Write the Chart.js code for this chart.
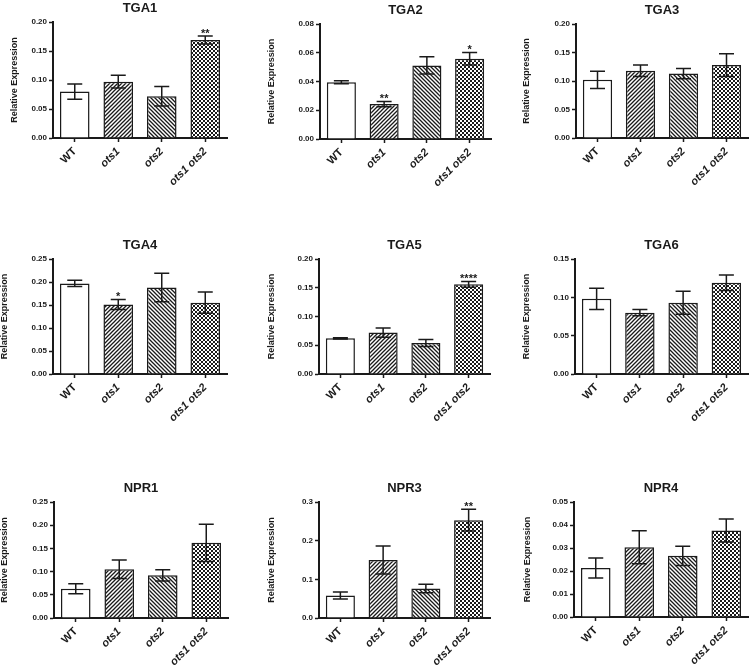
<!DOCTYPE html>
<html>
<head>
<meta charset="utf-8">
<script src="https://cdn.jsdelivr.net/npm/chart.js@4.4.1/dist/chart.umd.min.js"></script>
<style>
  html, body { margin: 0; padding: 0; background: #fff; }
  #wrap { position: relative; width: 750px; height: 669px; overflow: hidden; }
  #wrap canvas { position: absolute; }
</style>
</head>
<body>
<div id="wrap"></div>
<script>
// ── Data ──────────────────────────────────────────────────────────
const groups = ['WT', 'ots1', 'ots2', 'ots1 ots2'];

const tga1Mean = [0.080, 0.097, 0.072, 0.169];
const tga1Err  = [0.013, 0.011, 0.017, 0.007];
const tga1Sig  = ['', '', '', '**'];

const tga2Mean = [0.0395, 0.0243, 0.0512, 0.0558];
const tga2Err  = [0.0010, 0.0018, 0.0060, 0.0044];
const tga2Sig  = ['', '**', '', '*'];

const tga3Mean = [0.102, 0.118, 0.113, 0.128];
const tga3Err  = [0.015, 0.010, 0.009, 0.020];
const tga3Sig  = ['', '', '', ''];

const tga4Mean = [0.197, 0.151, 0.188, 0.155];
const tga4Err  = [0.007, 0.011, 0.031, 0.023];
const tga4Sig  = ['', '*', '', ''];

const tga5Mean = [0.062, 0.072, 0.054, 0.156];
const tga5Err  = [0.0012, 0.008, 0.006, 0.005];
const tga5Sig  = ['', '', '', '****'];

const tga6Mean = [0.098, 0.080, 0.093, 0.119];
const tga6Err  = [0.014, 0.004, 0.015, 0.010];
const tga6Sig  = ['', '', '', ''];

const npr1Mean = [0.063, 0.105, 0.092, 0.162];
const npr1Err  = [0.011, 0.020, 0.012, 0.040];
const npr1Sig  = ['', '', '', ''];

const npr3Mean = [0.058, 0.150, 0.076, 0.253];
const npr3Err  = [0.009, 0.036, 0.011, 0.028];
const npr3Sig  = ['', '', '', '**'];

const npr4Mean = [0.0213, 0.0303, 0.0266, 0.0376];
const npr4Err  = [0.0043, 0.0072, 0.0042, 0.0050];
const npr4Sig  = ['', '', '', ''];

// axis max, tick step, decimals for each panel
const axisMax   = [0.20, 0.08, 0.20, 0.25, 0.20, 0.15, 0.25, 0.3, 0.05];
const axisStep  = [0.05, 0.02, 0.05, 0.05, 0.05, 0.05, 0.05, 0.1, 0.01];
const axisDec   = [2, 2, 2, 2, 2, 2, 2, 1, 2];

const panels = [
    { title: 'TGA1', mean: tga1Mean, err: tga1Err, sig: tga1Sig },
    { title: 'TGA2', mean: tga2Mean, err: tga2Err, sig: tga2Sig },
    { title: 'TGA3', mean: tga3Mean, err: tga3Err, sig: tga3Sig },
    { title: 'TGA4', mean: tga4Mean, err: tga4Err, sig: tga4Sig },
    { title: 'TGA5', mean: tga5Mean, err: tga5Err, sig: tga5Sig },
    { title: 'TGA6', mean: tga6Mean, err: tga6Err, sig: tga6Sig },
    { title: 'NPR1', mean: npr1Mean, err: npr1Err, sig: npr1Sig },
    { title: 'NPR3', mean: npr3Mean, err: npr3Err, sig: npr3Sig },
    { title: 'NPR4', mean: npr4Mean, err: npr4Err, sig: npr4Sig },
];

// ── Layout (plot-area edges on the page, y-title distance) ────────
const boxes = [
    { L: 53,  R: 227, T: 22,  B: 138, d: 38 },
    { L: 320, R: 491, T: 24,  B: 139, d: 48 },
    { L: 576, R: 748, T: 24,  B: 138, d: 49 },
    { L: 53,  R: 227, T: 259, B: 374, d: 48 },
    { L: 319, R: 490, T: 259, B: 374, d: 47 },
    { L: 575, R: 748, T: 259, B: 374, d: 48 },
    { L: 54,  R: 228, T: 502, B: 618, d: 49 },
    { L: 319, R: 490, T: 502, B: 618, d: 47 },
    { L: 574, R: 748, T: 502, B: 617, d: 46 },
];

const FONT = "'Liberation Sans', Arial, Helvetica, sans-serif";
const INK = '#1a1a1a';
const TH = 26, XH = 62, PR = 2;

// ── Fill patterns ─────────────────────────────────────────────────
function makePattern(ctx, kind) {
    const s = 4;
    const c = document.createElement('canvas');
    c.width = s; c.height = s;
    const g = c.getContext('2d');
    g.fillStyle = '#fff';
    g.fillRect(0, 0, s, s);
    g.strokeStyle = INK;
    g.fillStyle = INK;
    g.lineWidth = 1.3;
    if (kind === 'fwd') {
        g.beginPath();
        g.moveTo(0, s); g.lineTo(s, 0);
        g.moveTo(-1, 1); g.lineTo(1, -1);
        g.moveTo(s - 1, s + 1); g.lineTo(s + 1, s - 1);
        g.stroke();
    } else if (kind === 'back') {
        g.beginPath();
        g.moveTo(0, 0); g.lineTo(s, s);
        g.moveTo(-1, s - 1); g.lineTo(1, s + 1);
        g.moveTo(s - 1, -1); g.lineTo(s + 1, 1);
        g.stroke();
    } else {
        g.fillRect(0, 0, s, s);
        g.fillStyle = '#fff';
        g.fillRect(0, 0, 2, 2);
        g.fillRect(2, 2, 2, 2);
    }
    return ctx.createPattern(c, 'repeat');
}

// error bars, significance stars and panel title
const errBars = {
    id: 'errBars',
    afterDatasetsDraw(chart, args, opts) {
        const { ctx, chartArea, scales: { y } } = chart;
        const meta = chart.getDatasetMeta(0);
        const mean = chart.data.datasets[0].data;
        ctx.save();
        ctx.strokeStyle = INK;
        ctx.fillStyle = INK;
        ctx.lineWidth = 1.5;
        meta.data.forEach((bar, i) => {
            const yt = y.getPixelForValue(mean[i] + opts.err[i]);
            const yb = y.getPixelForValue(mean[i] - opts.err[i]);
            const cw = 7.5;
            ctx.beginPath();
            ctx.moveTo(bar.x, yt); ctx.lineTo(bar.x, yb);
            ctx.moveTo(bar.x - cw, yt); ctx.lineTo(bar.x + cw, yt);
            ctx.moveTo(bar.x - cw, yb); ctx.lineTo(bar.x + cw, yb);
            ctx.stroke();
            if (opts.sig[i]) {
                ctx.font = 'bold 11px ' + FONT;
                ctx.textAlign = 'center';
                ctx.textBaseline = 'alphabetic';
                ctx.fillText(opts.sig[i], bar.x, yt + 1);
            }
        });
        ctx.font = 'bold 13px ' + FONT;
        ctx.textAlign = 'center';
        ctx.textBaseline = 'middle';
        ctx.fillText(opts.title, (chartArea.left + chartArea.right) / 2, chartArea.top - 14);
        ctx.restore();
    },
};

const wrap = document.getElementById('wrap');

panels.forEach((p, k) => {
    const b = boxes[k];
    const YW = b.d + 6;
    const cv = document.createElement('canvas');
    cv.width = b.R - b.L + YW + PR;
    cv.height = b.B - b.T + TH + XH;
    cv.style.left = (b.L - YW) + 'px';
    cv.style.top = (b.T - TH) + 'px';
    wrap.appendChild(cv);
    const ctx = cv.getContext('2d');
    const fills = ['#ffffff', makePattern(ctx, 'fwd'), makePattern(ctx, 'back'), makePattern(ctx, 'check')];
    const dec = axisDec[k];

    new Chart(cv, {
        type: 'bar',
        data: {
            labels: groups,
            datasets: [{
                data: p.mean,
                backgroundColor: fills,
                borderColor: INK,
                borderWidth: 1.5,
                barPercentage: 0.68,
                categoryPercentage: 1,
            }],
        },
        options: {
            responsive: false,
            animation: false,
            layout: { padding: { top: TH, right: PR, left: 0, bottom: 0 } },
            plugins: {
                legend: { display: false },
                tooltip: { enabled: false },
                errBars: { err: p.err, sig: p.sig, title: p.title },
            },
            scales: {
                x: {
                    offset: true,
                    grid: { drawOnChartArea: false, offset: false, tickLength: 4, tickWidth: 1.5, tickColor: INK },
                    border: { color: INK, width: 2 },
                    ticks: {
                        minRotation: 45,
                        maxRotation: 45,
                        padding: 3,
                        color: INK,
                        font: (c) => ({ family: FONT, size: 11, weight: 'bold', style: c.index > 0 ? 'italic' : 'normal' }),
                    },
                    afterFit: (s) => { s.height = XH; },
                },
                y: {
                    min: 0,
                    max: axisMax[k],
                    grid: { drawOnChartArea: false, tickLength: 4, tickWidth: 1.5, tickColor: INK },
                    border: { color: INK, width: 2 },
                    ticks: {
                        stepSize: axisStep[k],
                        padding: 2,
                        color: INK,
                        font: { family: FONT, size: 8, weight: 'bold' },
                        callback: (v) => v.toFixed(dec),
                    },
                    title: {
                        display: true,
                        text: 'Relative Expression',
                        color: INK,
                        padding: 0,
                        font: { family: FONT, size: 9, weight: 'bold' },
                    },
                    afterFit: (s) => { s.width = YW; },
                },
            },
        },
        plugins: [errBars],
    });
});
</script>
</body>
</html>
